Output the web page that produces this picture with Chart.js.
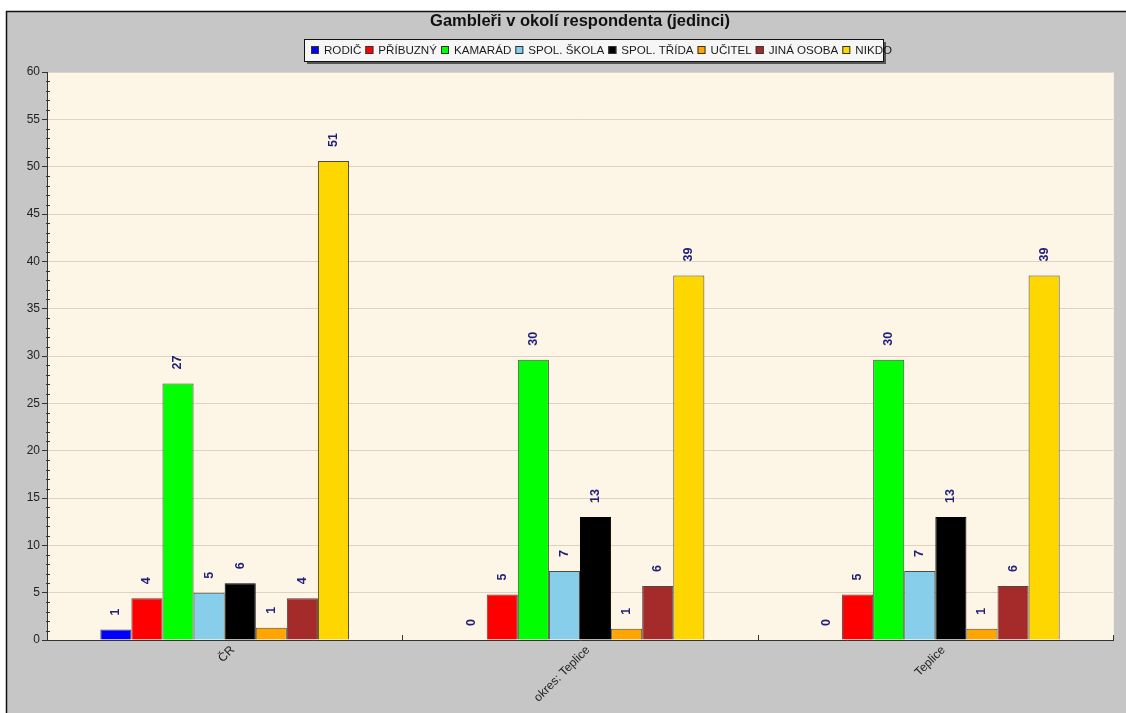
<!DOCTYPE html>
<html>
<head>
<meta charset="utf-8">
<title>Gambleři v okolí respondenta (jedinci)</title>
<script src="https://cdn.jsdelivr.net/npm/chart.js@4/dist/chart.umd.min.js"></script>
<style>
  html, body { margin: 0; padding: 0; background: #ffffff; }
  #wrap { width: 1126px; height: 713px; position: relative; }
</style>
</head>
<body>
<div id="wrap"><canvas id="chart" width="1126" height="713"></canvas></div>
<script>
// Categories on the x axis
const categories = ['ČR', 'okres: Teplice', 'Teplice'];

// Series names (legend) and their fill colours
const seriesNames = ['RODIČ', 'PŘÍBUZNÝ', 'KAMARÁD', 'SPOL. ŠKOLA', 'SPOL. TŘÍDA', 'UČITEL', 'JINÁ OSOBA', 'NIKDO'];
const seriesColors = ['#0000ff', '#ff0000', '#00ff00', '#87ceeb', '#000000', '#ffa500', '#a52a2a', '#ffd700'];

// Values per series, one per category
const rodic     = [1.1, 0, 0];
const pribuzny  = [4.4, 4.8, 4.8];
const kamarad   = [27.1, 29.6, 29.6];
const spolSkola = [5.0, 7.3, 7.3];
const spolTrida = [6.0, 13.0, 13.0];
const ucitel    = [1.3, 1.2, 1.2];
const jinaOsoba = [4.4, 5.7, 5.7];
const nikdo     = [50.6, 38.5, 38.5];
const seriesValues = [rodic, pribuzny, kamarad, spolSkola, spolTrida, ucitel, jinaOsoba, nikdo];

// Y axis range and labelled step
const yMin = 0, yMax = 60, yStep = 5;

const titleText = 'Gambleři v okolí respondenta (jedinci)';
const FONT = "'Liberation Sans', Arial, sans-serif";

const datasets = seriesNames.map((name, i) => ({
  label: name,
  data: seriesValues[i],
  backgroundColor: seriesColors[i],
  borderColor: i === 4 ? '#000000' : '#4d4a40',
  borderWidth: 1,
  borderSkipped: 'bottom',
  categoryPercentage: 0.7,
  barPercentage: 1.0
}));

// Frame, grey panel and cream plot background
const framePlugin = {
  id: 'frame',
  beforeDraw(chart) {
    const { ctx, width, height, chartArea: a } = chart;
    ctx.save();
    ctx.fillStyle = '#ffffff';
    ctx.fillRect(0, 0, width, height);
    ctx.fillStyle = '#c6c6c6';
    ctx.fillRect(6, 11, width - 6, height - 11);
    ctx.strokeStyle = '#111111';
    ctx.lineWidth = 1.5;
    ctx.beginPath();
    ctx.moveTo(6.5, height);
    ctx.lineTo(6.5, 11.5);
    ctx.lineTo(width, 11.5);
    ctx.stroke();
    ctx.fillStyle = '#fdf5e6';
    ctx.fillRect(a.left, a.top, a.right - a.left, a.bottom - a.top);
    ctx.strokeStyle = '#f4efe6';
    ctx.lineWidth = 1;
    ctx.beginPath();
    ctx.moveTo(a.left, a.top + 0.5);
    ctx.lineTo(a.right + 0.5, a.top + 0.5);
    ctx.lineTo(a.right + 0.5, a.bottom);
    ctx.stroke();
    ctx.restore();
  }
};

// Minor y ticks at every unit and small inward ticks at category boundaries
const minorTicksPlugin = {
  id: 'minorTicks',
  afterDraw(chart) {
    const { ctx, chartArea: a } = chart;
    const ys = chart.scales.y, xs = chart.scales.x;
    ctx.save();
    ctx.strokeStyle = '#333333';
    ctx.lineWidth = 1;
    ctx.beginPath();
    for (let v = yMin; v <= yMax; v++) {
      if (v % yStep === 0) continue;
      const py = Math.round(ys.getPixelForValue(v)) + 0.5;
      ctx.moveTo(a.left - 1, py);
      ctx.lineTo(a.left + 3, py);
    }
    for (let i = 0; i <= categories.length; i++) {
      let px;
      if (i === 0) px = a.left;
      else if (i === categories.length) px = a.right;
      else px = (xs.getPixelForValue(i - 1) + xs.getPixelForValue(i)) / 2;
      px = Math.round(px) + 0.5;
      ctx.moveTo(px, a.bottom);
      ctx.lineTo(px, a.bottom - 5);
    }
    ctx.stroke();
    ctx.restore();
  }
};

// Rotated value labels above each bar
const valueLabelsPlugin = {
  id: 'valueLabels',
  afterDatasetsDraw(chart) {
    const { ctx } = chart;
    ctx.save();
    ctx.font = 'bold 12.5px ' + FONT;
    ctx.fillStyle = '#20207a';
    ctx.textAlign = 'left';
    ctx.textBaseline = 'middle';
    chart.data.datasets.forEach((ds, i) => {
      const meta = chart.getDatasetMeta(i);
      meta.data.forEach((bar, j) => {
        const v = ds.data[j];
        ctx.save();
        ctx.translate(bar.x, bar.y - 14);
        ctx.rotate(-Math.PI / 2);
        ctx.fillText(String(Math.round(v)), 0, 0);
        ctx.restore();
      });
    });
    ctx.restore();
  }
};

// Title and boxed legend across the top
const headerPlugin = {
  id: 'header',
  afterDraw(chart) {
    const { ctx, chartArea: a } = chart;
    ctx.save();
    ctx.font = 'bold 16.5px ' + FONT;
    ctx.fillStyle = '#111111';
    ctx.textAlign = 'center';
    ctx.textBaseline = 'middle';
    ctx.fillText(titleText, (a.left + a.right) / 2, 21);

    // legend box with shadow
    const bx = 304, by = 39, bw = 579, bh = 22;
    ctx.fillStyle = '#555555';
    ctx.fillRect(bx + 3, by + 3, bw, bh);
    ctx.fillStyle = '#f6f6f6';
    ctx.fillRect(bx, by, bw, bh);

    ctx.font = '11.6px ' + FONT;
    ctx.textAlign = 'left';
    let x = bx + 7;
    const cy = by + bh / 2;
    chart.data.datasets.forEach((ds) => {
      ctx.fillStyle = ds.backgroundColor;
      ctx.fillRect(x, cy - 4, 8, 8);
      ctx.strokeStyle = '#333333';
      ctx.lineWidth = 1;
      ctx.strokeRect(x + 0.5, cy - 3.5, 7, 7);
      x += 13;
      ctx.fillStyle = '#1a1a1a';
      ctx.fillText(ds.label, x, cy + 0.5);
      x += ctx.measureText(ds.label).width + 4;
    });

    ctx.strokeStyle = '#111111';
    ctx.lineWidth = 1;
    ctx.strokeRect(bx + 0.5, by + 0.5, bw, bh);
    ctx.restore();
  }
};

new Chart(document.getElementById('chart'), {
  type: 'bar',
  data: { labels: categories, datasets },
  options: {
    responsive: false,
    animation: false,
    layout: { padding: { left: 6, right: 13, top: 72, bottom: 0 } },
    plugins: {
      legend: { display: false },
      title: { display: false },
      tooltip: { enabled: false }
    },
    scales: {
      x: {
        grid: { display: false, drawTicks: false },
        border: { display: true, color: '#333333', width: 1 },
        ticks: {
          color: '#222222',
          font: { family: FONT, size: 12 },
          minRotation: 45,
          maxRotation: 45,
          padding: 3,
          labelOffset: 8
        },
        afterFit(scale) { scale.height = 73; }
      },
      y: {
        min: yMin,
        max: yMax,
        ticks: {
          stepSize: yStep,
          color: '#222222',
          font: { family: FONT, size: 12 },
          padding: 2
        },
        grid: {
          color: (c) => (c.tick && c.tick.value === 0 ? 'rgba(0,0,0,0)' : '#dcd3c2'),
          tickColor: '#333333',
          tickLength: 5
        },
        border: { display: true, color: '#333333', width: 1 },
        afterFit(scale) { scale.width = 41; }
      }
    }
  },
  plugins: [framePlugin, minorTicksPlugin, valueLabelsPlugin, headerPlugin]
});
</script>
</body>
</html>
